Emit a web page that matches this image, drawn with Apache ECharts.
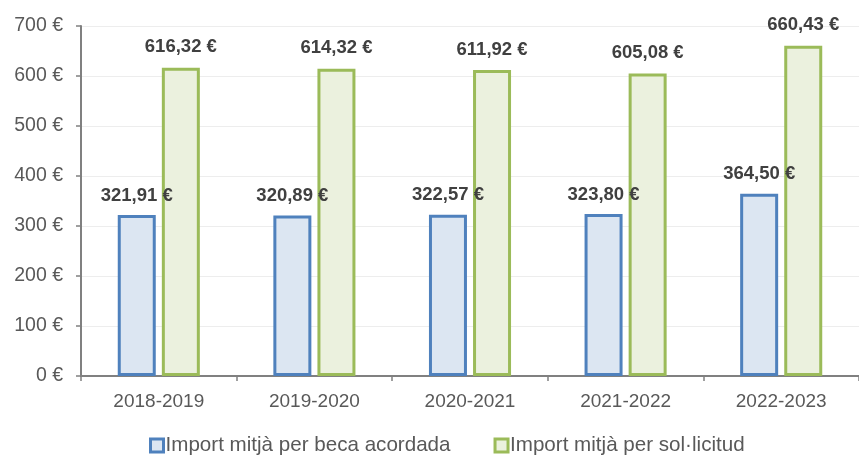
<!DOCTYPE html>
<html><head><meta charset="utf-8">
<script src="https://cdn.jsdelivr.net/npm/echarts@6/dist/echarts.min.js"></script>
<style>html,body{margin:0;padding:0;background:#fff}#c{width:859px;height:455px}</style>
</head><body><div id="c"></div>
<script>
const categories = ['2018-2019','2019-2020','2020-2021','2021-2022','2022-2023'];
const seriesNames = ['Import mitjà per beca acordada','Import mitjà per sol·licitud'];
const acordada = [321.91, 320.89, 322.57, 323.80, 364.50];
const solicitud = [616.32, 614.32, 611.92, 605.08, 660.43];
const yTicks = [0,100,200,300,400,500,600,700];

const fmt = v => v.toFixed(2).replace('.', ',') + ' €';
const font = 'Liberation Sans, Arial, sans-serif';
const chart = echarts.init(document.getElementById('c'));
chart.setOption({
  animation:false,
  textStyle:{fontFamily:font},
  grid:{left:81,right:-9.5,top:26,bottom:79,containLabel:false},
  legend:{bottom:-6,left:144,itemWidth:13,itemHeight:13,itemGap:43,icon:'rect',
    itemStyle:{borderWidth:3},
    textStyle:{fontSize:20.6,color:'#595959',fontFamily:font,padding:[0,0,0,-3]},
    data:seriesNames},
  xAxis:{type:'category',data:categories,
    axisLine:{lineStyle:{color:'#808080',width:2}},
    axisTick:{show:true,length:5,lineStyle:{color:'#808080',width:1.5}},
    axisLabel:{fontSize:19,color:'#595959',margin:16}},
  yAxis:{type:'value',min:yTicks[0],max:yTicks[yTicks.length-1],interval:100,
    axisLine:{show:true,lineStyle:{color:'#808080',width:2}},
    axisTick:{show:true,length:5,lineStyle:{color:'#808080',width:1.5}},
    splitLine:{lineStyle:{color:'#EDEDED'}},
    axisLabel:{fontSize:19.5,color:'#595959',margin:18,formatter:v=>v+' €'}},
  series:[
    {name:seriesNames[0],type:'bar',data:acordada,barWidth:38,barGap:'16%',
     itemStyle:{color:'#DCE6F2',borderColor:'#4F81BD',borderWidth:3},
     label:{show:true,position:'top',distance:10,formatter:p=>fmt(p.value),
       fontSize:18.5,fontWeight:'bold',color:'#404040',fontFamily:font}},
    {name:seriesNames[1],type:'bar',data:solicitud,barWidth:38,
     itemStyle:{color:'#EBF1DE',borderColor:'#9BBB59',borderWidth:3},
     label:{show:true,position:'top',distance:11,formatter:p=>fmt(p.value),
       fontSize:18.5,fontWeight:'bold',color:'#404040',fontFamily:font}}
  ]
});
</script></body></html>
